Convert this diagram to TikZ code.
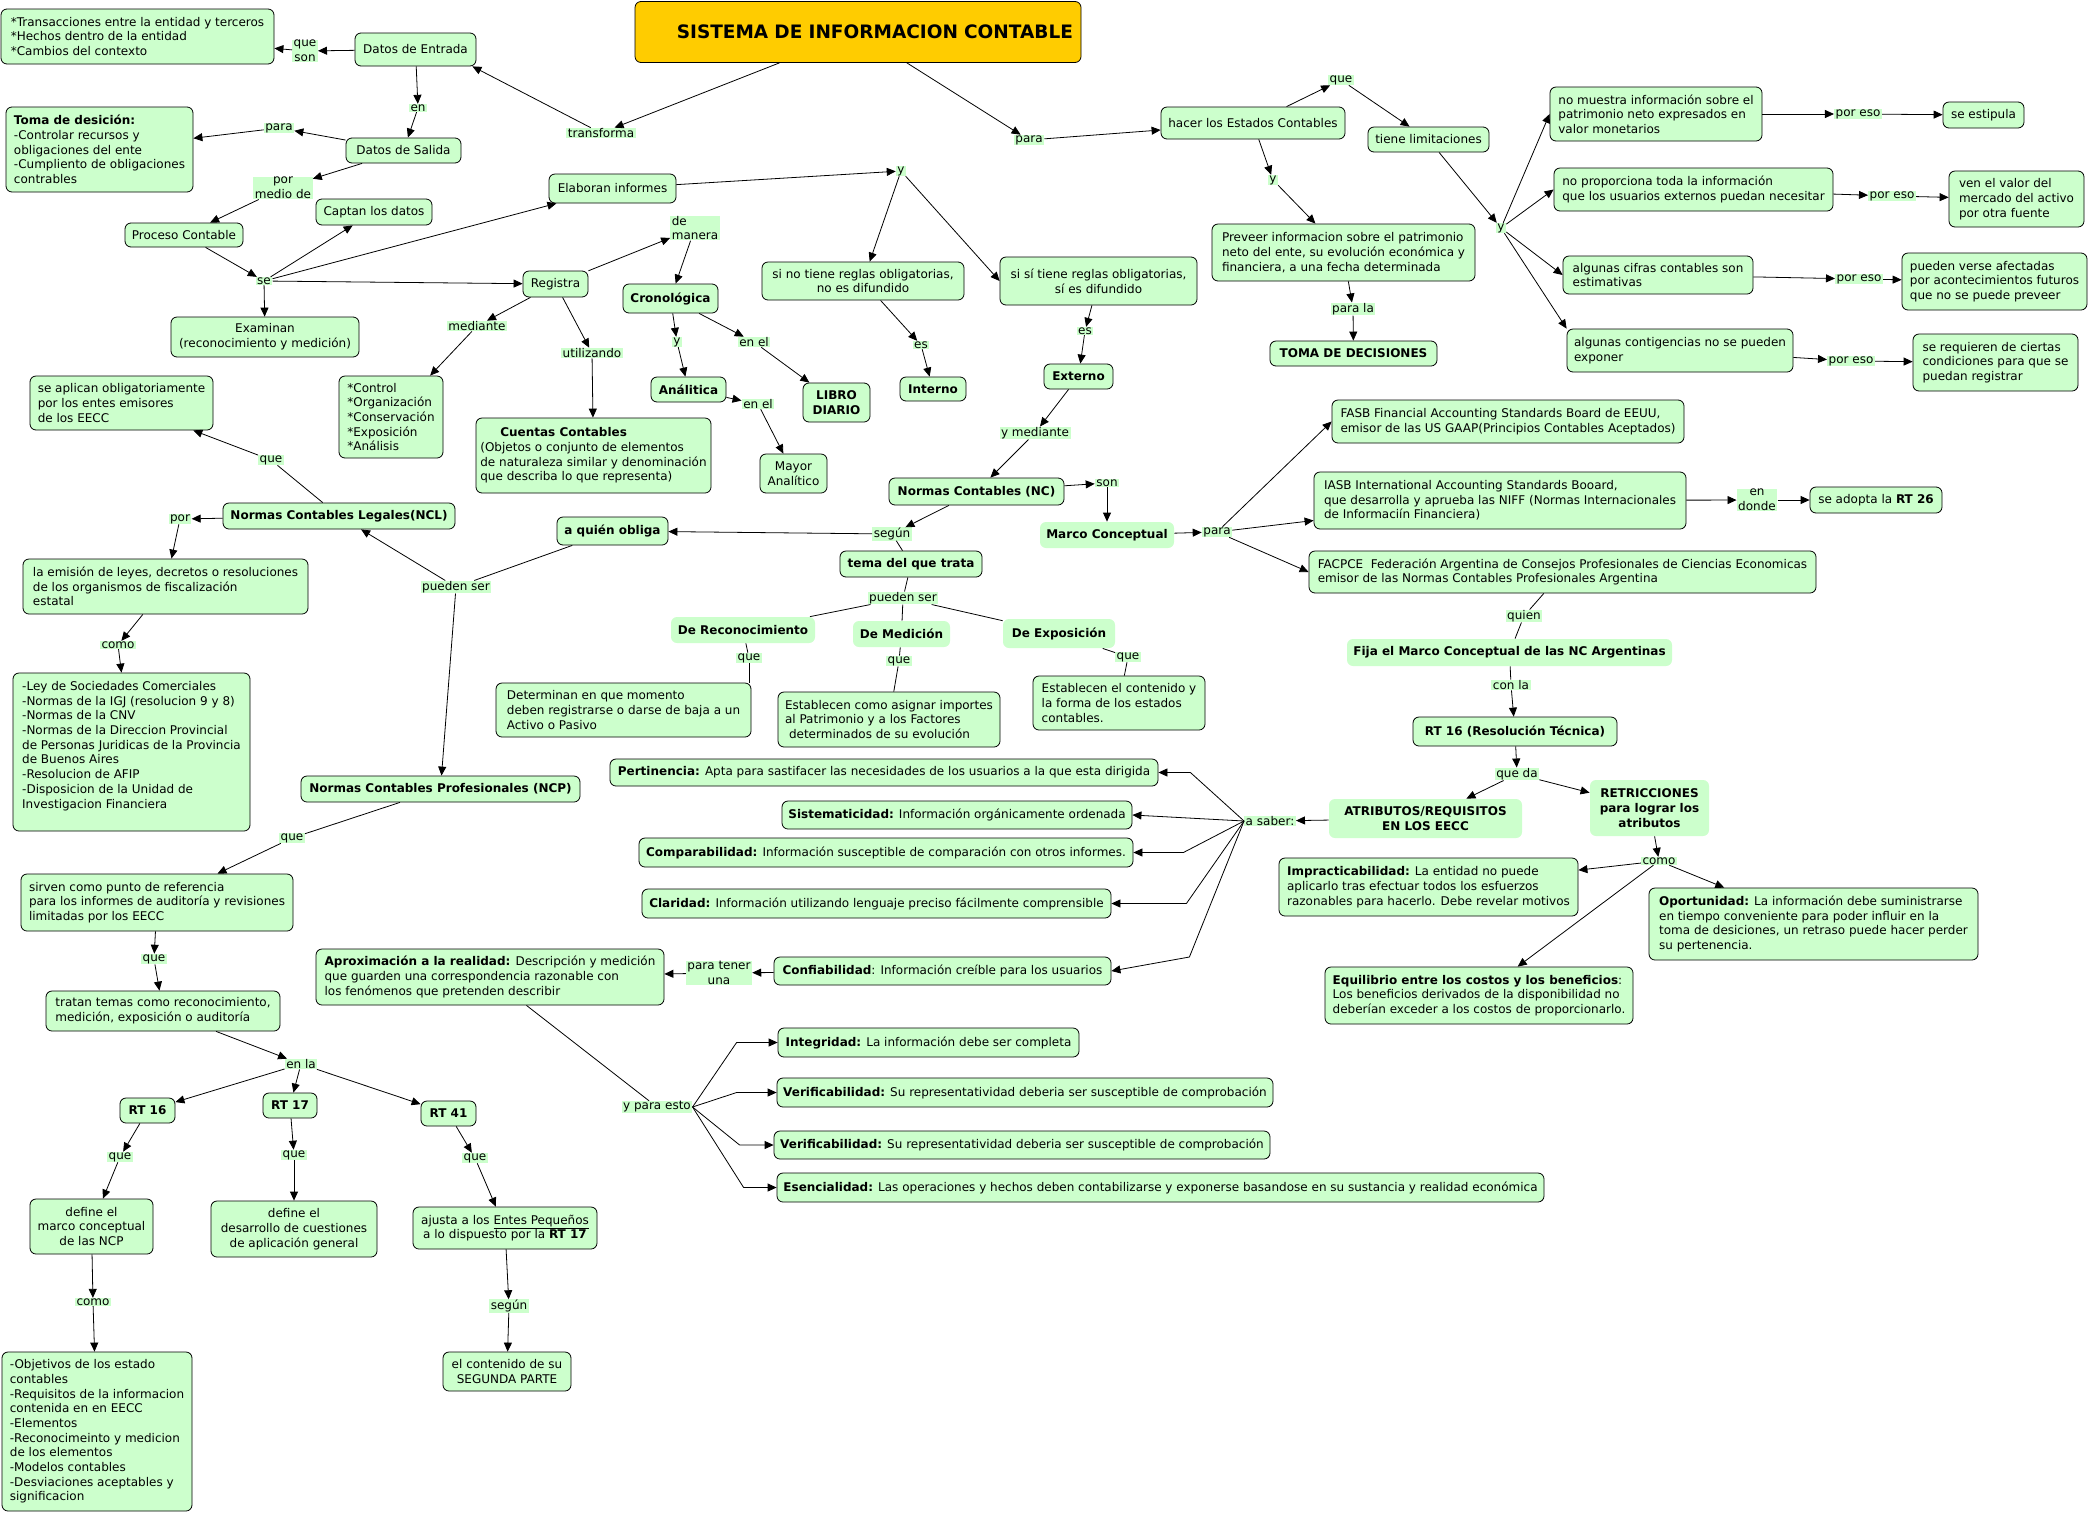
\documentclass[tikz,border=0pt]{standalone}
\usepackage{fontspec}
\setmainfont{DejaVu Sans}
\usetikzlibrary{arrows.meta}
\definecolor{boxfill}{HTML}{CCFFCC}
\definecolor{lblfill}{HTML}{CCFFCC}
\definecolor{titlefill}{HTML}{FFCC00}
\newcommand{\mbx}[7][]{%
  \pgfmathsetmacro{\bxcx}{(#3+#5)/2}%
  \pgfmathsetmacro{\bxcy}{(#4+#6)/2}%
  \pgfmathsetmacro{\bxw}{#5-#3}%
  \pgfmathsetmacro{\bxh}{#6-#4}%
  \node[bx, minimum width=\bxw pt, minimum height=\bxh pt, #1] (#2) at (\bxcx,\bxcy) {#7};}
\newcommand{\mlb}[5][]{\node[lbl,#1] (#2) at (#3,#4) {#5};}
\begin{document}
\begin{tikzpicture}[x=1pt,y=-1pt,
  every node/.append style={font=\fontsize{12}{14.7}\selectfont},
  bx/.style={draw, fill=boxfill, rounded corners=6pt, line width=0.8pt, inner xsep=4pt, inner ysep=2pt, align=center},
  bf/.style={font=\fontsize{12}{14.7}\selectfont\bfseries},
  nb/.style={draw=none},
  lbl/.style={fill=lblfill, inner xsep=1.5pt, inner ysep=0.5pt, align=center},
  ln/.style={line width=0.8pt},
  ar/.style={ln, -{Triangle[length=9pt,width=8pt]}}]
\fill[white] (0,0) rectangle (2090,1513);
\useasboundingbox (0,0) rectangle (2090,1513);

% ---------- boxes ----------
\node[bx, fill=titlefill, minimum height=61pt, text width=430pt, align=right, inner xsep=8pt,
  font=\fontsize{18.5}{22}\selectfont\bfseries] (title) at (858,32) {SISTEMA DE INFORMACION CONTABLE};

\mbx[align=left]{trans}{1}{9}{274}{64}{*Transacciones entre la entidad y terceros\\\mbox{*}Hechos dentro de la entidad\\\mbox{*}Cambios del contexto}
\mbx{de_ent}{355}{33}{476}{66}{Datos de Entrada}
\mbx{de_sal}{346}{138}{461}{163}{Datos de Salida}
\mbx[align=left]{toma}{6}{107}{193}{192}{\textbf{Toma de desición:}\\-Controlar recursos y\\obligaciones del ente\\-Cumpliento de obligaciones\\contrables}
\mbx{captan}{316}{199}{432}{225}{Captan los datos}
\mbx{proceso}{125}{223}{243}{247}{Proceso Contable}
\mbx{examinan}{171}{317}{359}{357}{Examinan\\(reconocimiento y medición)}
\mbx[align=left]{control}{339}{376}{443}{458}{*Control\\\mbox{*}Organización\\\mbox{*}Conservación\\\mbox{*}Exposición\\\mbox{*}Análisis}
\mbx[align=left]{seaplican}{30}{376}{213}{430}{se aplican obligatoriamente\\por los entes emisores\\de los EECC}
\mbx[align=left]{cuentas}{476}{418}{711}{493}{\hspace*{20pt}\textbf{Cuentas Contables}\\(Objetos o conjunto de elementos\\de naturaleza similar y denominación\\que describa lo que representa)}
\mbx{elab}{549}{174}{676}{203}{Elaboran informes}
\mbx{registra}{523}{271}{588}{297}{Registra}
\mbx[bf]{crono}{623}{284}{718}{313}{Cronológica}
\mbx[bf]{analitica}{651}{377}{726}{402}{Análitica}
\mbx[bf]{libro}{803}{383}{870}{422}{LIBRO\\DIARIO}
\mbx{mayor}{760}{454}{827}{493}{Mayor\\Analítico}
\mbx{sino}{762}{262}{964}{300}{si no tiene reglas obligatorias,\\no es difundido}
\mbx[bf]{interno}{900}{377}{966}{401}{Interno}
\mbx{sisi}{1000}{257}{1197}{305}{si sí tiene reglas obligatorias,\\sí es difundido}
\mbx[bf]{externo}{1044}{364}{1113}{389}{Externo}
\mbx[bf]{nc}{889}{478}{1064}{505}{Normas Contables (NC)}
\mbx{hacer}{1161}{107}{1345}{139}{hacer los Estados Contables}
\mbx{tiene}{1368}{127}{1489}{152}{tiene limitaciones}
\mbx[align=left]{preveer}{1212}{224}{1475}{281}{Preveer informacion sobre el patrimonio\\neto del ente, su evolución económica y\\financiera, a una fecha determinada}
\mbx[bf]{tomadec}{1270}{341}{1437}{366}{TOMA DE DECISIONES}
\mbx[align=left]{fasb}{1332}{400}{1684}{443}{FASB Financial Accounting Standards Board de EEUU,\\emisor de las US GAAP(Principios Contables Aceptados)}
\mbx[align=left]{iasb}{1314}{472}{1686}{529}{IASB International Accounting Standards Booard,\\que desarrolla y aprueba las NIFF (Normas Internacionales\\de Informaciín Financiera)}
\mbx[align=left]{facpce}{1309}{551}{1816}{593}{FACPCE\ \ Federación Argentina de Consejos Profesionales de Ciencias Economicas\\emisor de las Normas Contables Profesionales Argentina}
\mbx[align=left]{nomuestra}{1550}{87}{1762}{141}{no muestra información sobre el\\patrimonio neto expresados en\\valor monetarios}
\mbx[align=left]{noprop}{1554}{168}{1833}{211}{no proporciona toda la información\\que los usuarios externos puedan necesitar}
\mbx[align=left]{cifras}{1563}{256}{1753}{294}{algunas cifras contables son\\estimativas}
\mbx[align=left]{contig}{1567}{329}{1793}{372}{algunas contigencias no se pueden\\exponer}
\mbx{estipula}{1943}{102}{2024}{128}{se estipula}
\mbx[align=left]{ven}{1949}{171}{2084}{227}{ven el valor del\\mercado del activo\\por otra fuente}
\mbx[align=left]{pueden}{1902}{253}{2087}{310}{pueden verse afectadas\\por acontecimientos futuros\\que no se puede preveer}
\mbx[align=left]{requieren}{1913}{334}{2078}{391}{se requieren de ciertas\\condiciones para que se\\puedan registrar}
\mbx{adopta}{1810}{487}{1942}{513}{se adopta la \textbf{RT 26}}
\mbx[bf,nb]{marco}{1040}{522}{1174}{548}{Marco Conceptual}
\mbx[bf,nb]{fija}{1347}{639}{1672}{666}{Fija el Marco Conceptual de las NC Argentinas}
\mbx[bf]{rt16b}{1413}{717}{1617}{746}{RT 16 (Resolución Técnica)}
\mbx[bf,nb]{atrib}{1329}{799}{1522}{838}{ATRIBUTOS/REQUISITOS\\EN LOS EECC}
\mbx[bf,nb]{retr}{1590}{780}{1709}{836}{RETRICCIONES\\para lograr los\\atributos}
\mbx[align=left]{impract}{1279}{858}{1578}{916}{\textbf{Impracticabilidad:} La entidad no puede\\aplicarlo tras efectuar todos los esfuerzos\\razonables para hacerlo. Debe revelar motivos}
\mbx[align=left]{oportun}{1649}{888}{1978}{960}{\textbf{Oportunidad:} La información debe suministrarse\\en tiempo conveniente para poder influir en la\\toma de desiciones, un retraso puede hacer perder\\su pertenencia.}
\mbx[align=left]{equil}{1325}{967}{1633}{1024}{\textbf{Equilibrio entre los costos y los beneficios}:\\Los beneficios derivados de la disponibilidad no\\deberían exceder a los costos de proporcionarlo.}
\mbx[bf]{ncl}{223}{503}{455}{529}{Normas Contables Legales(NCL)}
\mbx[align=left]{emision}{23}{559}{308}{614}{la emisión de leyes, decretos o resoluciones\\de los organismos de fiscalización\\estatal}
\mbx[align=left]{ley}{13}{673}{250}{831}{-Ley de Sociedades Comerciales\\-Normas de la IGJ (resolucion 9 y 8)\\-Normas de la CNV\\-Normas de la Direccion Provincial\\de Personas Juridicas de la Provincia\\de Buenos Aires\\-Resolucion de AFIP\\-Disposicion de la Unidad de\\Investigacion Financiera\\\mbox{}}
\mbx[bf]{aquien}{557}{517}{668}{545}{a quién obliga}
\mbx[bf]{tema}{840}{551}{982}{577}{tema del que trata}
\mbx[bf,nb]{dereco}{671}{617}{815}{643}{De Reconocimiento}
\mbx[bf,nb]{demed}{853}{621}{950}{647}{De Medición}
\mbx[bf,nb]{dexpo}{1003}{619}{1115}{648}{De Exposición}
\mbx[align=left]{determinan}{496}{683}{751}{737}{Determinan en que momento\\deben registrarse o darse de baja a un\\Activo o Pasivo}
\mbx[align=left]{estab1}{778}{692}{1000}{747}{Establecen como asignar importes\\al Patrimonio y a los Factores\\\hspace*{4pt}determinados de su evolución}
\mbx[align=left]{estab2}{1033}{676}{1205}{730}{Establecen el contenido y\\la forma de los estados\\contables.}
\mbx[bf]{ncp}{301}{776}{580}{802}{Normas Contables Profesionales (NCP)}
\mbx[align=left]{sirven}{21}{874}{293}{931}{sirven como punto de referencia\\para los informes de auditoría y revisiones\\limitadas por los EECC}
\mbx[align=left]{tratan}{46}{991}{280}{1031}{tratan temas como reconocimiento,\\medición, exposición o auditoría}
\mbx[align=left]{aprox}{316}{949}{664}{1005}{\textbf{Aproximación a la realidad:} Descripción y medición\\que guarden una correspondencia razonable con\\los fenómenos que pretenden describir}
\mbx{pertin}{610}{759}{1158}{786}{\textbf{Pertinencia:} Apta para sastifacer las necesidades de los usuarios a la que esta dirigida}
\mbx{sistem}{782}{801}{1132}{829}{\textbf{Sistematicidad:} Información orgánicamente ordenada}
\mbx{compar}{639}{838}{1133}{867}{\textbf{Comparabilidad:} Información susceptible de comparación con otros informes.}
\mbx{claridad}{642}{889}{1111}{918}{\textbf{Claridad:} Información utilizando lenguaje preciso fácilmente comprensible}
\mbx{confiab}{774}{957}{1111}{985}{\textbf{Confiabilidad}: Información creíble para los usuarios}
\mbx{integ}{778}{1028}{1079}{1057}{\textbf{Integridad:} La información debe ser completa}
\mbx{verif1}{777}{1078}{1273}{1107}{\textbf{Verificabilidad:} Su representatividad deberia ser susceptible de comprobación}
\mbx{verif2}{774}{1131}{1270}{1159}{\textbf{Verificabilidad:} Su representatividad deberia ser susceptible de comprobación}
\mbx{esenc}{777}{1173}{1544}{1202}{\textbf{Esencialidad:} Las operaciones y hechos deben contabilizarse y exponerse basandose en su sustancia y realidad económica}
\mbx[bf]{rt16a}{120}{1098}{175}{1123}{RT 16}
\mbx[bf]{rt17}{263}{1093}{317}{1118}{RT 17}
\mbx[bf]{rt41}{421}{1101}{476}{1126}{RT 41}
\mbx{defmarco}{30}{1199}{153}{1254}{define el\\marco conceptual\\de las NCP}
\mbx{defdes}{211}{1201}{377}{1257}{define el\\desarrollo de cuestiones\\de aplicación general}
\mbx{ajusta}{413}{1207}{597}{1249}{ajusta a los \underline{Entes Pequeños}\\a lo dispuesto por la \textbf{RT 17}}
\mbx[align=left]{objetivos}{2}{1352}{192}{1511}{-Objetivos de los estado\\contables\\-Requisitos de la informacion\\contenida en en EECC\\-Elementos\\-Reconocimeinto y medicion\\de los elementos\\-Modelos contables\\-Desviaciones aceptables y\\significacion}
\mbx{contenido}{443}{1352}{571}{1391}{el contenido de su\\SEGUNDA PARTE}

% ---------- linking labels ----------
\mlb{l_queson}{305}{51}{que\\son}
\mlb{l_en}{418}{108}{en}
\mlb{l_para1}{279}{128}{para}
\mlb{l_pormedio}{283}{188}{por\\medio de}
\mlb{l_se}{264}{281}{se}
\mlb{l_mediante}{477}{326}{mediante}
\mlb{l_que_ncl}{271}{460}{que}
\mlb{l_transf}{601}{133}{transforma}
\mlb{l_para2}{1029}{140}{para}
\mlb{l_y1}{901}{171}{y}
\mlb[align=left]{l_demanera}{695}{228}{de\\manera}
\mlb{l_y2}{677}{342}{y}
\mlb{l_enel1}{754}{342}{en el}
\mlb{l_enel2}{758}{404}{en el}
\mlb{l_utilizando}{592}{353}{utilizando}
\mlb{l_es1}{921}{345}{es}
\mlb{l_es2}{1085}{331}{es}
\mlb{l_ymed}{1035}{433}{y mediante}
\mlb{l_son}{1107}{483}{son}
\mlb{l_que_h}{1341}{80}{que}
\mlb{l_y4}{1501}{228}{y}
\mlb{l_y3}{1273}{180}{y}
\mlb{l_parala}{1353}{309}{para la}
\mlb{pe1}{1858}{114}{por eso}
\mlb{pe2}{1892}{196}{por eso}
\mlb{pe3}{1859}{279}{por eso}
\mlb{pe4}{1851}{361}{por eso}
\mlb{l_endonde}{1757}{500}{en\\donde}
\mlb{l_por}{180}{519}{por}
\mlb{l_como1}{118}{645}{como}
\mlb{l_pueden1}{456}{587}{pueden ser}
\mlb{l_que_ncp}{292}{838}{que}
\mlb{l_que_s}{154}{959}{que}
\mlb{l_segun}{892}{534}{según}
\mlb{l_pueden2}{903}{598}{pueden ser}
\mlb{l_que_r}{749}{658}{que}
\mlb{l_que_m}{899}{661}{que}
\mlb{l_que_e}{1128}{657}{que}
\mlb{l_paratener}{719}{973}{para tener\\una}
\mlb{l_para3}{1217}{532}{para}
\mlb{l_quien}{1524}{616}{quien}
\mlb{l_conla}{1511}{685}{con la}
\mlb{l_queda}{1517}{774}{que da}
\mlb{l_asaber}{1270}{821}{a saber:}
\mlb{l_como3}{1659}{861}{como}
\mlb{l_enla}{301}{1064}{en la}
\mlb{l_que16}{120}{1157}{que}
\mlb{l_que17}{294}{1155}{que}
\mlb{l_que41}{475}{1158}{que}
\mlb{l_como2}{93}{1302}{como}
\mlb{l_segun2}{509}{1306}{según}
\mlb{l_ypara}{657}{1107}{y para esto}

% ---------- connectors ----------
\draw[ar] (de_ent) -- (l_queson);
\draw[ar] (l_queson) -- (trans);
\draw[ar] (de_ent) -- (l_en);
\draw[ar] (l_en) -- (de_sal);
\draw[ar] (de_sal) -- (l_para1);
\draw[ar] (l_para1) -- (toma);
\draw[ar] (de_sal) -- (l_pormedio);
\draw[ar] (l_pormedio) -- (proceso);
\draw[ar] (proceso) -- (l_se);
\draw[ar] (l_se) -- (captan);
\draw[ar] (l_se) -- (elab);
\draw[ar] (l_se) -- (registra);
\draw[ar] (l_se) -- (examinan);
\draw[ar] (title) -- (l_transf);
\draw[ar] (l_transf) -- ([xshift=-4pt]de_ent.south east);
\draw[ar] (title) -- (l_para2);
\draw[ar] (l_para2) -- (hacer);
\draw[ar] (elab) -- (l_y1);
\draw[ar] (l_y1) -- (sino);
\draw[ar] (l_y1) -- (sisi.west);
\draw[ar] (registra) -- (l_demanera);
\draw[ar] (l_demanera) -- (crono);
\draw[ar] (registra) -- (l_mediante);
\draw[ar] (l_mediante) -- (control);
\draw[ar] (registra) -- (l_utilizando);
\draw[ar] (l_utilizando) -- (cuentas);
\draw[ar] (crono) -- (l_y2);
\draw[ar] (l_y2) -- (analitica);
\draw[ar] (crono) -- (l_enel1);
\draw[ar] (l_enel1) -- (libro);
\draw[ar] (analitica) -- (l_enel2);
\draw[ar] (l_enel2) -- (mayor);
\draw[ar] (sino) -- (l_es1);
\draw[ar] (l_es1) -- (interno);
\draw[ar] (sisi) -- (l_es2);
\draw[ar] (l_es2) -- (externo);
\draw[ar] (externo) -- (l_ymed);
\draw[ar] (l_ymed) -- (nc);
\draw[ar] (nc) -- (l_son);
\draw[ar] (l_son) -- (marco);
\draw[ar] (nc) -- (l_segun);
\draw[ar] (l_segun) -- (aquien);
\draw[ln] (l_segun) -- (tema);
\draw[ln] (tema) -- (l_pueden2);
\draw[ln] (l_pueden2) -- (dereco);
\draw[ln] (l_pueden2) -- (demed);
\draw[ln] (l_pueden2) -- (dexpo);
\draw[ln] (dereco) -- (l_que_r);
\draw[ln] (l_que_r) -- (l_que_r |- determinan.north);
\draw[ln] (demed) -- (l_que_m);
\draw[ln] (l_que_m) -- (estab1);
\draw[ln] (dexpo) -- (l_que_e);
\draw[ln] (l_que_e) -- (estab2);
\draw[ln] (aquien) -- (l_pueden1);
\draw[ar] (l_pueden1) -- (ncl);
\draw[ar] (l_pueden1) -- (ncp);
\draw[ln] (ncl) -- (l_que_ncl);
\draw[ar] (l_que_ncl) -- (seaplican);
\draw[ar] (ncl) -- (l_por);
\draw[ar] (l_por) -- (emision);
\draw[ar] (emision) -- (l_como1);
\draw[ar] (l_como1) -- (ley);
\draw[ln] (ncp) -- (l_que_ncp);
\draw[ar] (l_que_ncp) -- (sirven);
\draw[ar] (sirven) -- (l_que_s);
\draw[ar] (l_que_s) -- (tratan);
\draw[ar] (tratan) -- (l_enla);
\draw[ar] (l_enla) -- (rt16a);
\draw[ar] (l_enla) -- (rt17);
\draw[ar] (l_enla) -- (rt41);
\draw[ar] (rt16a) -- (l_que16);
\draw[ar] (l_que16) -- (defmarco);
\draw[ar] (rt17) -- (l_que17);
\draw[ar] (l_que17) -- (defdes);
\draw[ar] (rt41) -- (l_que41);
\draw[ar] (l_que41) -- (ajusta);
\draw[ar] (defmarco) -- (l_como2);
\draw[ar] (l_como2) -- (objetivos);
\draw[ar] (ajusta) -- (l_segun2);
\draw[ar] (l_segun2) -- (contenido);
\draw[ar] (hacer) -- (l_que_h);
\draw[ar] (l_que_h) -- (tiene);
\draw[ar] (hacer) -- (l_y3);
\draw[ar] (l_y3) -- (preveer);
\draw[ar] (preveer) -- (l_parala);
\draw[ar] (l_parala) -- (tomadec);
\draw[ar] (tiene) -- (l_y4);
\draw[ar] (l_y4) -- (nomuestra.west);
\draw[ar] (l_y4) -- (noprop.west);
\draw[ar] (l_y4) -- (cifras.west);
\draw[ar] (l_y4) -- (contig.north west);
\draw[ar] (nomuestra) -- (pe1);
\draw[ar] (pe1) -- (estipula);
\draw[ar] (noprop) -- (pe2);
\draw[ar] (pe2) -- (ven);
\draw[ar] (cifras) -- (pe3);
\draw[ar] (pe3) -- (pueden);
\draw[ar] (contig) -- (pe4);
\draw[ar] (pe4) -- (requieren);
\draw[ar] (marco) -- (l_para3);
\draw[ar] (l_para3) -- (fasb.west);
\draw[ar] (l_para3) -- ([yshift=-20pt]iasb.west);
\draw[ar] (l_para3) -- (facpce.west);
\draw[ar] (iasb) -- (l_endonde);
\draw[ar] (l_endonde) -- (adopta);
\draw[ln] (facpce) -- (l_quien);
\draw[ln] (l_quien) -- (fija);
\draw[ln] (fija) -- (l_conla);
\draw[ar] (l_conla) -- (rt16b);
\draw[ar] (rt16b) -- (l_queda);
\draw[ar] (l_queda) -- (atrib);
\draw[ar] (l_queda) -- (retr);
\draw[ar] (atrib) -- (l_asaber);
\draw[ar] (l_asaber.west) -- ([xshift=32pt]pertin.east) -- (pertin.east);
\draw[ar] (l_asaber.west) -- (sistem.east);
\draw[ar] (l_asaber.west) -- ([xshift=50pt]compar.east) -- (compar.east);
\draw[ar] (l_asaber.west) -- ([xshift=75pt]claridad.east) -- (claridad.east);
\draw[ar] (l_asaber.west) -- ([xshift=78pt,yshift=14pt]confiab.east) -- (confiab.east);
\draw[ar] (retr) -- (l_como3);
\draw[ar] (l_como3) -- (impract);
\draw[ar] (l_como3) -- (oportun);
\draw[ar] (l_como3) -- (equil);
\draw[ar] (confiab) -- (l_paratener);
\draw[ar] (l_paratener) -- (aprox);
\draw[ln] (aprox) -- (l_ypara);
\draw[ar] (l_ypara.east) -- ([xshift=-41pt]integ.west) -- (integ.west);
\draw[ar] (l_ypara.east) -- ([xshift=-40pt]verif1.west) -- (verif1.west);
\draw[ar] (l_ypara.east) -- ([xshift=-34pt]verif2.west) -- (verif2.west);
\draw[ar] (l_ypara.east) -- ([xshift=-33pt]esenc.west) -- (esenc.west);
\end{tikzpicture}
\end{document}
